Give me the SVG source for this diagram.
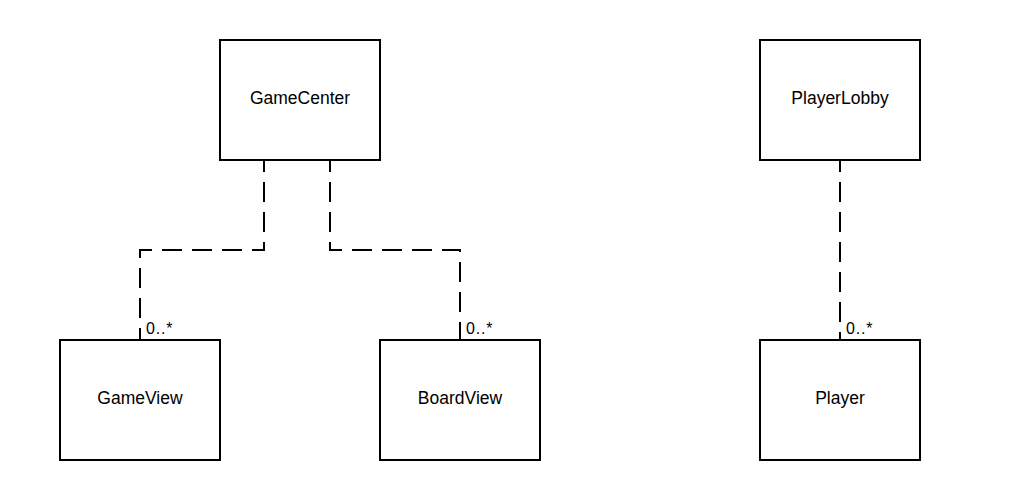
<svg xmlns="http://www.w3.org/2000/svg" width="1020" height="500" viewBox="0 0 1020 500">
<style>
.box{fill:#fff;stroke:#000;stroke-width:2}
.lbl{font-family:"Liberation Sans",Arial,sans-serif;font-size:17.5px;fill:#000;text-anchor:middle}
.mult{font-family:"Liberation Sans",Arial,sans-serif;font-size:16px;fill:#000;letter-spacing:0.8px}
.conn{fill:none;stroke:#000;stroke-width:2;stroke-dasharray:20 10;stroke-dashoffset:8}
</style>
<rect width="1020" height="500" fill="#fff"/>
<g id="connectors">
<path class="conn" d="M264 160 V250 H140 V340"/>
<path class="conn" d="M330 160 V250 H460 V340"/>
<path class="conn" d="M840 160 V340"/>
<text class="mult" x="146" y="334">0..*</text>
<text class="mult" x="466" y="334">0..*</text>
<text class="mult" x="846" y="334">0..*</text>
</g>
<g id="GameCenter"><rect class="box" x="220" y="40" width="160" height="120"/><text class="lbl" x="300" y="104">GameCenter</text></g>
<g id="PlayerLobby"><rect class="box" x="760" y="40" width="160" height="120"/><text class="lbl" x="840" y="104">PlayerLobby</text></g>
<g id="GameView"><rect class="box" x="60" y="340" width="160" height="120"/><text class="lbl" x="140" y="404">GameView</text></g>
<g id="BoardView"><rect class="box" x="380" y="340" width="160" height="120"/><text class="lbl" x="460" y="404">BoardView</text></g>
<g id="Player"><rect class="box" x="760" y="340" width="160" height="120"/><text class="lbl" x="840" y="404">Player</text></g>
</svg>
